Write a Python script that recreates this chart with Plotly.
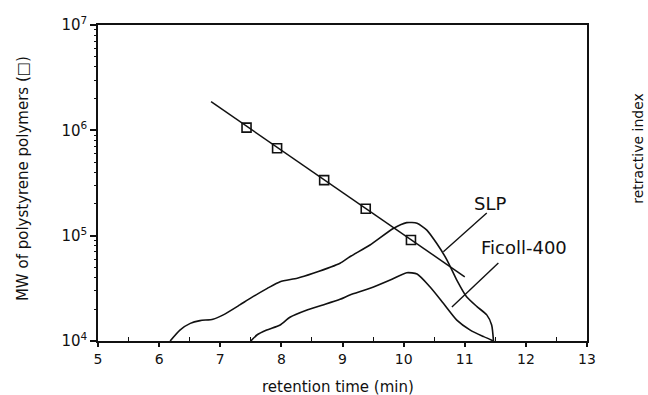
import plotly.graph_objects as go
import math

# Polystyrene calibration standards
ps_time = [7.43, 7.93, 8.70, 9.38, 10.12]
ps_mw = [1.06e6, 6.75e5, 3.37e5, 1.80e5, 9.1e4]

# Calibration fit line end points
fit_time = [6.85, 11.0]
fit_mw = [1.87e6, 4.07e4]

# SLP refractive-index trace
slp_time = [6.18, 6.34, 6.51, 6.67, 6.88, 7.05, 7.32, 7.49, 7.77, 7.98, 8.26, 8.52,
            8.96, 9.12, 9.45, 9.83, 10.05, 10.22, 10.38, 10.54, 10.71, 10.87, 11.03,
            11.20, 11.36, 11.44, 11.47]
slp_val = [1.0e4, 1.27e4, 1.47e4, 1.56e4, 1.61e4, 1.77e4, 2.2e4, 2.54e4, 3.16e4, 3.66e4,
           3.94e4, 4.39e4, 5.47e4, 6.3e4, 8.15e4, 1.17e5, 1.33e5, 1.31e5, 1.13e5, 8.46e4,
           5.87e4, 3.79e4, 2.63e4, 2.12e4, 1.77e4, 1.42e4, 1.0e4]

# Ficoll-400 refractive-index trace
fic_time = [7.50, 7.60, 7.76, 7.98, 8.14, 8.42, 8.68, 8.96, 9.12, 9.45, 9.78, 10.05,
            10.22, 10.43, 10.65, 10.87, 11.09, 11.31, 11.47]
fic_val = [1.0e4, 1.14e4, 1.27e4, 1.42e4, 1.68e4, 1.97e4, 2.2e4, 2.49e4, 2.73e4, 3.16e4,
           3.79e4, 4.45e4, 4.32e4, 3.27e4, 2.28e4, 1.58e4, 1.27e4, 1.10e4, 1.0e4]

x_ticks = [5, 6, 7, 8, 9, 10, 11, 12, 13]
x_minor = [5.5, 6.5, 7.5, 8.5, 9.5, 10.5, 11.5, 12.5]
y_ticks = [1e4, 1e5, 1e6, 1e7]
y_ticktext = ["10<sup>4</sup>", "10<sup>5</sup>", "10<sup>6</sup>", "10<sup>7</sup>"]
y_minor = [m * 10 ** e for e in range(4, 7) for m in range(2, 10)]

FONT = "DejaVu Sans"
BLACK = "#111111"

fig = go.Figure()
fig.add_trace(go.Scatter(x=slp_time, y=slp_val, mode="lines", line=dict(color=BLACK, width=1.6, shape="spline", smoothing=0.6), showlegend=False))
fig.add_trace(go.Scatter(x=fic_time, y=fic_val, mode="lines", line=dict(color=BLACK, width=1.6, shape="spline", smoothing=0.6), showlegend=False))
fig.add_trace(go.Scatter(x=fit_time, y=fit_mw, mode="lines", line=dict(color=BLACK, width=1.5), showlegend=False))
fig.add_trace(go.Scatter(x=ps_time, y=ps_mw, mode="markers",
                         marker=dict(symbol="square-open", size=9, color=BLACK, line=dict(width=1.6)),
                         showlegend=False))
# empty trace to carry the overlay axes that draw the minor ticks
fig.add_trace(go.Scatter(x=[None], y=[None], xaxis="x2", yaxis="y2", mode="lines",
                         showlegend=False, hoverinfo="skip"))

fig.update_layout(
    xaxis=dict(range=[5, 13], tickvals=x_ticks, ticktext=[str(v) for v in x_ticks],
               ticks="outside", ticklen=4, tickwidth=1.5, tickcolor=BLACK,
               showline=True, linecolor=BLACK, linewidth=1.5, mirror=True,
               showgrid=False, zeroline=False,
               tickfont=dict(family=FONT, size=14, color=BLACK)),
    yaxis=dict(type="log", range=[4, 7], tickvals=y_ticks, ticktext=y_ticktext,
               ticks="outside", ticklen=6, tickwidth=1.5, tickcolor=BLACK,
               showline=True, linecolor=BLACK, linewidth=1.5, mirror=True,
               showgrid=False, zeroline=False,
               tickfont=dict(family=FONT, size=15, color=BLACK)),
    xaxis2=dict(range=[5, 13], overlaying="x", anchor="y2", side="bottom",
                tickvals=x_minor, showticklabels=False, ticks="inside", ticklen=4,
                tickwidth=1.2, tickcolor=BLACK, showgrid=False, zeroline=False, showline=False),
    yaxis2=dict(type="log", range=[4, 7], overlaying="y", anchor="x2", side="left",
                tickvals=y_minor, showticklabels=False, ticks="outside", ticklen=3,
                tickwidth=1.2, tickcolor=BLACK, showgrid=False, zeroline=False, showline=False),
)

# leader lines (shapes use data values on log axes)
fig.add_shape(type="line", xref="x", yref="y", x0=10.65, y0=7.05e4, x1=11.36, y1=1.64e5,
              line=dict(color=BLACK, width=1.4))
fig.add_shape(type="line", xref="x", yref="y", x0=10.79, y0=2.1e4, x1=11.55, y1=5.5e4,
              line=dict(color=BLACK, width=1.4))

L = math.log10
fig.add_annotation(x=11.42, y=L(2.04e5), xref="x", yref="y", text="SLP", showarrow=False,
                   xanchor="center", yanchor="middle", font=dict(family=FONT, size=18, color=BLACK))
fig.add_annotation(x=11.97, y=L(7.8e4), xref="x", yref="y", text="Ficoll-400", showarrow=False,
                   xanchor="center", yanchor="middle", font=dict(family=FONT, size=18, color=BLACK))
fig.add_annotation(x=0.491, y=-0.146, xref="paper", yref="paper", text="retention time (min)",
                   xanchor="center", yanchor="middle",
                   showarrow=False, font=dict(family=FONT, size=15, color=BLACK))
fig.add_annotation(x=-0.153, y=0.513, xref="paper", yref="paper", text="MW of polystyrene polymers (\u25a1)",
                   xanchor="center", yanchor="middle",
                   textangle=-90, showarrow=False, font=dict(family=FONT, size=15, color=BLACK))
fig.add_annotation(x=1.104, y=0.611, xref="paper", yref="paper", text="retractive index",
                   xanchor="center", yanchor="middle",
                   textangle=-90, showarrow=False, font=dict(family=FONT, size=14, color=BLACK))

fig.update_layout(width=648, height=395, margin=dict(l=98, r=61, t=25, b=54),
                  paper_bgcolor="white", plot_bgcolor="white", font=dict(family=FONT, color=BLACK))

fig.write_html("out.html")
